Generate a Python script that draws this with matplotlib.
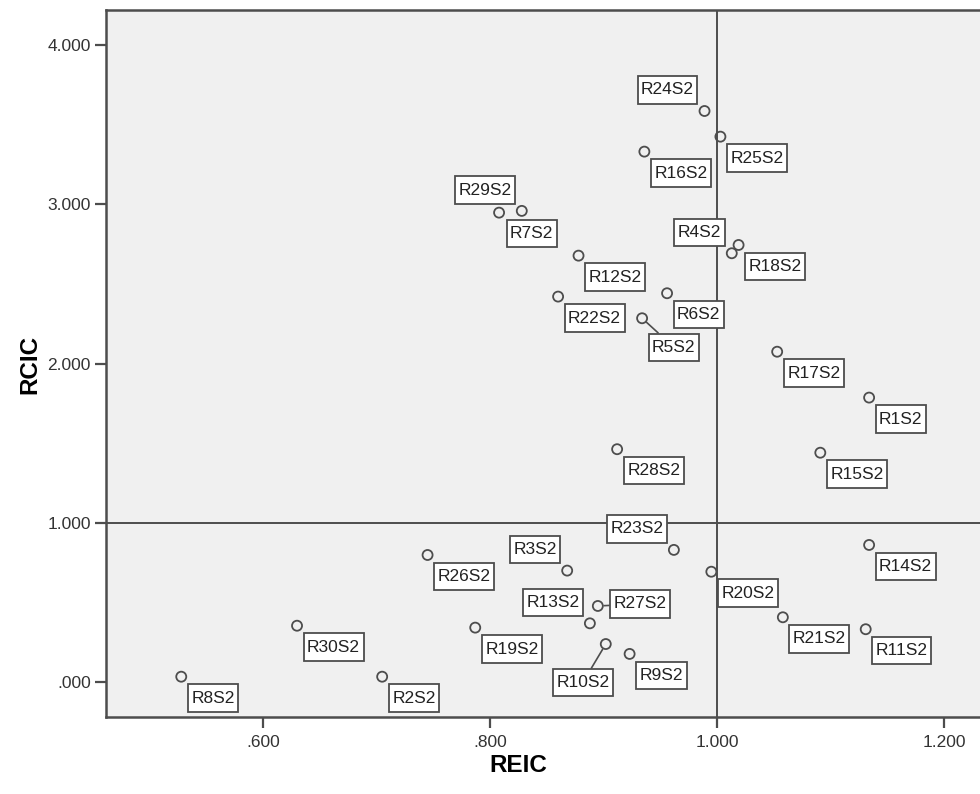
import matplotlib.pyplot as plt
from matplotlib.path import Path

plt.rcParams['font.family'] = ['Liberation Sans', 'DejaVu Sans']

# Case labels and their efficiency indices
labels = ['R%dS2' % i for i in range(1, 31)]
reic = [1.134, 0.705, 0.868, 1.013, 0.934, 0.956, 0.828, 0.528, 0.923, 0.902,
        1.131, 0.878, 0.888, 1.134, 1.091, 0.936, 1.053, 1.019, 0.787, 0.995,
        1.058, 0.860, 0.962, 0.989, 1.003, 0.745, 0.895, 0.912, 0.808, 0.630]
rcic = [1.787, 0.035, 0.701, 2.693, 2.285, 2.442, 2.959, 0.035, 0.178, 0.240,
        0.333, 2.678, 0.370, 0.862, 1.441, 3.331, 2.075, 2.745, 0.343, 0.694,
        0.408, 2.421, 0.831, 3.586, 3.425, 0.799, 0.479, 1.463, 2.948, 0.355]

xticks = [0.6, 0.8, 1.0, 1.2]
yticks = [0.0, 1.0, 2.0, 3.0, 4.0]

def fmt(v):
    s = '%.3f' % v
    return s[1:] if s.startswith('0') else s

# rectangular label box, more padding top/bottom than left/right
def label_box(x0, y0, width, height, mutation_size):
    px = 0.2 * mutation_size
    py = 0.36 * mutation_size
    x0, y0 = x0 - px, y0 - py
    x1, y1 = x0 + width + 2 * px, y0 + height + 2 * py
    return Path([(x0, y0), (x1, y0), (x1, y1), (x0, y1), (x0, y0)],
                closed=True)

# label placement: (ha, dx px, dy px downward, leader line)
SE = ('left', 10, 21.5, False)
NW = ('right', -10.5, -21, False)
place = {lab: SE for lab in labels}
for lab in ['R24S2', 'R23S2', 'R3S2', 'R13S2', 'R4S2']:
    place[lab] = NW
place['R29S2'] = ('center', -14, -22.5, False)
place['R7S2'] = ('center', 10, 22.5, False)
place['R5S2'] = ('left', 10, 29, True)
place['R10S2'] = ('center', -23, 38.5, True)
place['R27S2'] = ('left', 15.5, -2, True)

edge = '#4d4d4d'
fig = plt.figure(figsize=(9.8, 7.94), dpi=100)
ax = fig.add_axes([106 / 980, 77 / 794, 884 / 980, 707 / 794])
ax.set_facecolor('#f0f0f0')
ax.set_xlim(0.4617, 1.2405)
ax.set_ylim(-0.218, 4.22)

ax.axvline(1.0, color=edge, lw=1.4, zorder=1)
ax.axhline(1.0, color=edge, lw=1.4, zorder=1)

ax.scatter(reic, rcic, s=52, facecolors='none', edgecolors=edge,
           linewidths=1.3, zorder=3)

for lab, x, y in zip(labels, reic, rcic):
    ha, dx, dy, leader = place[lab]
    arrow = None
    if leader:
        arrow = dict(arrowstyle='-', color=edge, lw=1.2, shrinkA=0, shrinkB=4.5)
    ax.annotate(lab, (x, y), xytext=(dx, -dy), textcoords='offset pixels',
                ha=ha, va='center', fontsize=12.5, color='#222222',
                bbox=dict(boxstyle=label_box, fc='white', ec=edge, lw=1.3),
                arrowprops=arrow, zorder=4)

ax.set_xticks(xticks)
ax.set_xticklabels([fmt(v) for v in xticks])
ax.set_yticks(yticks)
ax.set_yticklabels([fmt(v) for v in yticks])
ax.tick_params(direction='out', length=8, width=1.6, color=edge,
               labelsize=12.5, labelcolor='#333333', pad=3)
ax.tick_params(axis='x', pad=5)
for sp in ax.spines.values():
    sp.set_color(edge)
    sp.set_linewidth(1.8)

fig.text(518 / 980, 1 - 766 / 794, 'REIC', ha='center', va='center',
         fontsize=17.5, fontweight='bold')
fig.text(30 / 980, 1 - 364 / 794, 'RCIC', ha='center', va='center',
         fontsize=17.5, fontweight='bold', rotation=90)

fig.savefig('out.png', dpi=100)
